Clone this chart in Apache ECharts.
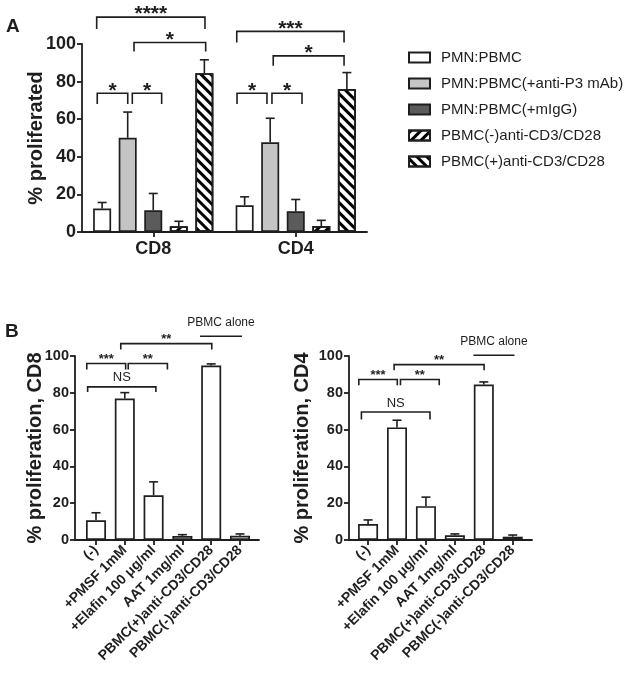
<!DOCTYPE html>
<html>
<head>
<meta charset="utf-8">
<script src="https://cdn.jsdelivr.net/npm/echarts@6/dist/echarts.min.js"></script>
<style>
  html, body { margin: 0; padding: 0; background: #fff; }
  #chart { width: 628px; height: 681px; }
</style>
</head>
<body>
<div id="chart"></div>
<script>
// ---- panel A data ----
const groupsA = ['CD8', 'CD4'];
const conditionsA = ['PMN:PBMC', 'PMN:PBMC(+anti-P3 mAb)', 'PMN:PBMC(+mIgG)', 'PBMC(-)anti-CD3/CD28', 'PBMC(+)anti-CD3/CD28'];
// one row per condition: [CD8, CD4]
const meansA = [[12.5, 14.2], [50.1, 47.7], [11.6, 11.0], [3.0, 3.2], [84.5, 76.1]];
const errA = [[3.2, 4.5], [13.7, 12.8], [8.9, 6.3], [2.7, 3.0], [7.1, 8.7]];
// brackets: from/to on a 0..2 scale across the two groups
const bracketsA = [
  { from: 0.103, to: 0.863, top: 114.3, drop: 108, label: '****' },
  { from: 0.365, to: 0.868, top: 100.8, drop: 96, label: '*' },
  { from: 0.107, to: 0.321, top: 73.8, drop: 68.1, label: '*' },
  { from: 0.353, to: 0.559, top: 73.8, drop: 68.1, label: '*' },
  { from: 1.086, to: 1.839, top: 106.7, drop: 100.8, label: '***' },
  { from: 1.342, to: 1.839, top: 93.7, drop: 88.4, label: '*' },
  { from: 1.088, to: 1.298, top: 73.8, drop: 68.1, label: '*' },
  { from: 1.333, to: 1.544, top: 73.8, drop: 68.1, label: '*' }
];

// ---- panel B data ----
const treatmentsB = ['(-)', '+PMSF 1mM', '+Elafin 100 μg/ml', 'AAT 1mg/ml', 'PBMC(+)anti-CD3/CD28', 'PBMC(-)anti-CD3/CD28'];
const meansCD8 = [10.7, 76.9, 24.3, 2.2, 94.8, 2.3];
const errCD8 = [4.1, 3.2, 7.3, 0.7, 0.9, 1.0];
const meansCD4 = [8.7, 61.2, 18.4, 2.6, 84.5, 1.8];
const errCD4 = [2.2, 3.9, 4.9, 0.7, 1.4, 0.9];
const bracketsCD8 = [
  { from: -0.32, to: 1.03, top: 95.9, drop: 92.6, label: '***' },
  { from: 1.12, to: 2.48, top: 95.9, drop: 92.6, label: '**' },
  { from: -0.29, to: 2.08, top: 83.2, drop: 80.5, label: 'NS' },
  { from: 0.86, to: 4.02, top: 106.7, drop: 103.5, label: '**' },
  { from: 3.61, to: 5.07, top: 110.7, drop: 110.7, label: 'PBMC alone' }
];
const bracketsCD4 = [
  { from: -0.32, to: 1.01, top: 87.2, drop: 84.1, label: '***' },
  { from: 1.12, to: 2.46, top: 87.2, drop: 84.1, label: '**' },
  { from: -0.23, to: 2.14, top: 69.6, drop: 65.5, label: 'NS' },
  { from: 0.90, to: 4.01, top: 95.3, drop: 92.2, label: '**' },
  { from: 3.64, to: 5.06, top: 100.4, drop: 100.4, label: 'PBMC alone' }
];

const FONT = "'Liberation Sans', Arial, Helvetica, sans-serif";
const INK = '#1e1e1e';
const BAR_W_A = 18;
const BAR_GAP_A = 0.42;

const chart = echarts.init(document.getElementById('chart'), null, { renderer: 'canvas' });

const fillsA = ['#ffffff', '#c4c4c4', '#5b5b5b', '#ffffff', '#ffffff'];
const decalsA = [null, null, null,
  { symbol: 'rect', symbolSize: 1, dashArrayX: [1, 0], dashArrayY: [3, 3.5], rotation: -Math.PI / 4, color: '#000' },
  { symbol: 'rect', symbolSize: 1, dashArrayX: [1, 0], dashArrayY: [3, 3.5], rotation: Math.PI / 4, color: '#000' }
];

function bracketRender(list, kind) {
  return function (params, api) {
    const b = list[params.dataIndex];
    const p1 = api.coord([b.from, b.drop]);
    const p2 = api.coord([b.from, b.top]);
    const p3 = api.coord([b.to, b.top]);
    const p4 = api.coord([b.to, b.drop]);
    const children = [{
      type: 'polyline',
      shape: { points: [p1, p2, p3, p4] },
      style: { stroke: INK, lineWidth: 1.6, fill: null }
    }];
    let size = 13, weight = 'normal', off = 4;
    if (kind === 'A') { size = 21; weight = 'bold'; off = 2.5; }
    else if (b.label === 'NS') { size = 13; off = 9; }
    else if (b.label === 'PBMC alone') { size = 12; off = 14; }
    else { size = 13; weight = 'bold'; off = 4; }
    children.push({
      type: 'text',
      style: {
        text: b.label, x: (p2[0] + p3[0]) / 2, y: p2[1] - off,
        align: 'center', verticalAlign: 'middle',
        font: weight + ' ' + size + 'px ' + FONT, fill: INK
      }
    });
    return { type: 'group', children: children };
  };
}

function errorRenderB(params, api) {
  const base = api.coord([api.value(0), api.value(1)]);
  const top = api.coord([api.value(0), api.value(2)]);
  return {
    type: 'group',
    children: [
      { type: 'line', shape: { x1: base[0], y1: base[1], x2: top[0], y2: top[1] }, style: { stroke: INK, lineWidth: 1.6 } },
      { type: 'line', shape: { x1: top[0] - 4.5, y1: top[1], x2: top[0] + 4.5, y2: top[1] }, style: { stroke: INK, lineWidth: 1.6 } }
    ]
  };
}

function errorRenderA(params, api) {
  const step = BAR_W_A * (1 + BAR_GAP_A);
  const off = (api.value(1) - 2) * step;
  const base = api.coord([api.value(0), api.value(2)]);
  const top = api.coord([api.value(0), api.value(3)]);
  const x = base[0] + off;
  return {
    type: 'group',
    children: [
      { type: 'line', shape: { x1: x, y1: base[1], x2: x, y2: top[1] }, style: { stroke: INK, lineWidth: 1.6 } },
      { type: 'line', shape: { x1: x - 4.5, y1: top[1], x2: x + 4.5, y2: top[1] }, style: { stroke: INK, lineWidth: 1.6 } }
    ]
  };
}

const axisLineStyle = { color: INK, width: 1.8 };
function yAxisFor(gridIndex, name, nameGap, labelSize) {
  return {
    gridIndex: gridIndex, type: 'value', min: 0, max: 100, interval: 20,
    axisLine: { show: true, onZero: false, lineStyle: axisLineStyle },
    axisTick: { show: true, length: 5, lineStyle: axisLineStyle },
    axisLabel: { color: INK, fontSize: labelSize, fontWeight: 'bold', fontFamily: FONT, margin: 6 },
    splitLine: { show: false },
    name: name, nameLocation: 'middle', nameGap: nameGap, nameRotate: 90, nameMoveOverlap: false,
    nameTextStyle: { color: INK, fontSize: 20, fontWeight: 'bold', fontFamily: FONT }
  };
}
function xAxisB(gridIndex, min, max) {
  const idx = treatmentsB.map((t, i) => i);
  return {
    gridIndex: gridIndex, type: 'value', min: min, max: max,
    axisLine: { show: true, onZero: false, lineStyle: axisLineStyle },
    axisTick: { show: true, length: 5, lineStyle: axisLineStyle, customValues: idx },
    axisLabel: {
      customValues: idx, rotate: 45, margin: 8,
      formatter: (v) => treatmentsB[Math.round(v)],
      color: INK, fontSize: 14, fontWeight: 'bold', fontFamily: FONT
    },
    splitLine: { show: false }
  };
}

const series = [];
conditionsA.forEach((name, k) => {
  series.push({
    name: name, type: 'bar', xAxisIndex: 0, yAxisIndex: 0,
    data: meansA[k], barWidth: BAR_W_A, barGap: (BAR_GAP_A * 100) + '%',
    itemStyle: { color: fillsA[k], borderColor: INK, borderWidth: 1.7, decal: decalsA[k] || undefined },
    emphasis: { disabled: true }
  });
});
const errDataA = [];
conditionsA.forEach((name, k) => {
  groupsA.forEach((g, c) => errDataA.push([c, k, meansA[k][c], meansA[k][c] + errA[k][c]]));
});
series.push({
  type: 'custom', xAxisIndex: 0, yAxisIndex: 0, renderItem: errorRenderA,
  data: errDataA, encode: { x: 0, y: [2, 3] }, z: 3
});
series.push({
  type: 'custom', xAxisIndex: 1, yAxisIndex: 0, renderItem: bracketRender(bracketsA, 'A'),
  data: bracketsA.map(b => [b.from, b.top]), encode: { x: 0, y: 1 }, clip: false
});

[[meansCD8, errCD8, bracketsCD8, 2, 1], [meansCD4, errCD4, bracketsCD4, 3, 2]].forEach(([m, e, br, xi, yi]) => {
  series.push({
    type: 'bar', xAxisIndex: xi, yAxisIndex: yi, barWidth: 20,
    data: m.map((v, i) => [i, v]),
    itemStyle: { color: '#fff', borderColor: INK, borderWidth: 1.7 },
    emphasis: { disabled: true }
  });
  series.push({
    type: 'custom', xAxisIndex: xi, yAxisIndex: yi, renderItem: errorRenderB,
    data: m.map((v, i) => [i, v, v + e[i]]), encode: { x: 0, y: [1, 2] }, z: 3
  });
  series.push({
    type: 'custom', xAxisIndex: xi, yAxisIndex: yi, renderItem: bracketRender(br, 'B'),
    data: br.map(b => [b.from, b.top]), encode: { x: 0, y: 1 }, clip: false
  });
});

const option = {
  animation: false,
  backgroundColor: '#fff',
  textStyle: { fontFamily: FONT },
  title: [
    { text: 'A', left: 6, top: 17, padding: 0, textStyle: { fontSize: 19, fontWeight: 'bold', color: INK, fontFamily: FONT } },
    { text: 'B', left: 5, top: 322, padding: 0, textStyle: { fontSize: 19, fontWeight: 'bold', color: INK, fontFamily: FONT } }
  ],
  legend: {
    data: conditionsA, orient: 'vertical', left: 408, top: 50, padding: 0,
    itemWidth: 21, itemHeight: 10, itemGap: 11, icon: 'rect',
    selectedMode: false,
    textStyle: { fontSize: 15, color: INK, fontFamily: FONT, padding: [0, 0, 0, 6] }
  },
  grid: [
    { left: 82, top: 44, width: 285, height: 188 },
    { left: 75, top: 356, width: 184, height: 184 },
    { left: 349, top: 356, width: 183, height: 184 }
  ],
  xAxis: [
    {
      gridIndex: 0, type: 'category', data: groupsA,
      axisLine: { show: true, lineStyle: axisLineStyle },
      axisTick: { show: true, alignWithLabel: true, length: 5, lineStyle: axisLineStyle },
      axisLabel: { color: INK, fontSize: 18, fontWeight: 'bold', fontFamily: FONT, margin: 8 }
    },
    { gridIndex: 0, type: 'value', min: 0, max: 2, show: false },
    xAxisB(1, -0.729, 5.66),
    xAxisB(2, -0.659, 5.666)
  ],
  yAxis: [
    yAxisFor(0, '% proliferated', 36, 18),
    yAxisFor(1, '% proliferation, CD8', 30, 14.5),
    yAxisFor(2, '% proliferation, CD4', 37, 14.5)
  ],
  series: series
};

chart.setOption(option);
</script>
</body>
</html>
